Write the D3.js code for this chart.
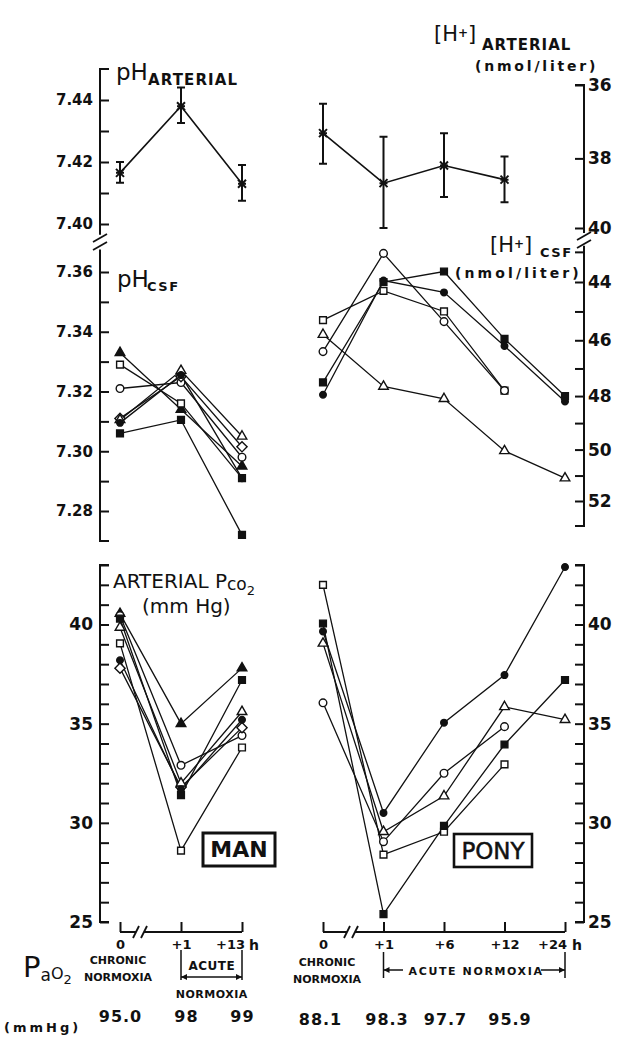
<!DOCTYPE html>
<html>
<head>
<meta charset="utf-8">
<script src="https://cdn.jsdelivr.net/npm/d3@7"></script>
<style>
  body { margin: 0; background: #fff; }
  svg text { font-family: "DejaVu Sans", sans-serif; fill: #111; }
</style>
</head>
<body>
<div class="chart"></div>
<script>
var svgWidth = 617;
var svgHeight = 1037;
var ink = "#111";
var font = "DejaVu Sans";

// time points (h)
var manTimes = ["0", "+1", "+13"];
var ponyTimes = ["0", "+1", "+6", "+12", "+24"];

// man: arterial pH, mean and bar ends
var manArtPH = [7.4165, 7.438, 7.413];
var manArtTop = [7.420, 7.444, 7.419];
var manArtBottom = [7.4133, 7.4326, 7.4075];

// pony: arterial [H+] (nmol/liter), mean and bar ends
var ponyArtH = [37.3, 38.7, 38.2, 38.6];
var ponyArtTop = [36.5, 37.4, 37.3, 37.95];
var ponyArtBottom = [38.15, 40.0, 39.1, 39.25];

// man: one row per subject
var manSymbols = ["triangleFilled", "square", "circle", "diamond", "triangle", "circleFilled", "squareFilled"];
var manCsfPH = [
  [7.333, 7.314, 7.295],
  [7.329, 7.316, 7.291],
  [7.321, 7.323, 7.298],
  [7.311, 7.325, 7.3015],
  [7.3105, 7.327, 7.305],
  [7.3095, 7.3255, 7.291],
  [7.306, 7.3105, 7.272]
];
var manPco2 = [
  [40.55, 35.0, 37.8],
  [39.05, 28.6, 33.8],
  [40.45, 32.9, 34.4],
  [37.8, 31.8, 34.8],
  [39.85, 32.0, 35.6],
  [38.2, 31.7, 35.2],
  [40.3, 31.4, 37.2]
];

// pony: one row per animal
var ponySymbols = ["square", "circle", "triangle", "squareFilled", "circleFilled"];
var ponyCsfH = [
  [45.3, 44.3, 45.0, 47.8],
  [46.4, 43.05, 45.35, 47.8],
  [45.8, 47.65, 48.1, 50.05, 51.1],
  [47.5, 44.0, 43.65, 45.95, 48.0],
  [47.95, 43.95, 44.35, 46.2, 48.2]
];
var ponyPco2 = [
  [42.0, 28.4, 29.55, 32.95],
  [36.05, 29.05, 32.5, 34.85],
  [39.05, 29.55, 31.35, 35.85, 35.2],
  [40.05, 25.4, 29.85, 33.95, 37.2],
  [39.65, 30.5, 35.05, 37.45, 42.9]
];

// Pao2 (mmHg) under the time points
var manPao2 = ["95.0", "98", "99"];
var ponyPao2 = ["88.1", "98.3", "97.7", "95.9"];

// tick values
var phArtTicks = [7.40, 7.41, 7.42, 7.43, 7.44];
var phArtLabels = [7.40, 7.42, 7.44];
var phCsfTicks = [7.28, 7.29, 7.30, 7.31, 7.32, 7.33, 7.34, 7.35, 7.36];
var phCsfLabels = [7.28, 7.30, 7.32, 7.34, 7.36];
var hArtTicks = [36, 38, 40];
var hCsfTicks = [43, 44, 45, 46, 47, 48, 49, 50, 51, 52];
var hCsfLabels = [44, 46, 48, 50, 52];
var pco2Ticks = [25, 26, 27, 28, 29, 30, 31, 32, 33, 34, 35, 36, 37, 38, 39, 40, 41, 42, 43];
var pco2Labels = [25, 30, 35, 40];

var svg = d3.select(".chart")
  .append("svg")
  .attr("width", svgWidth)
  .attr("height", svgHeight)
  .style("background", "#fff");

svg.append("defs").append("marker")
  .attr("id", "arr")
  .attr("viewBox", "0 0 10 10")
  .attr("refX", 10)
  .attr("refY", 5)
  .attr("markerWidth", 6)
  .attr("markerHeight", 6)
  .attr("markerUnits", "userSpaceOnUse")
  .attr("orient", "auto-start-reverse")
  .append("path")
  .attr("d", "M0,0L10,5L0,10z")
  .attr("fill", ink);

// scales
var xMan = d3.scalePoint().domain(manTimes).range([120, 242]);
var xPony = d3.scalePoint().domain(ponyTimes).range([323, 565]);
var yArtL = d3.scaleLinear().domain([7.40, 7.44]).range([224, 100]);
var yCsfL = d3.scaleLinear().domain([7.28, 7.36]).range([511, 272]);
var yArtR = d3.scaleLog().domain([36, 40]).range([85, 228]);
var yCsfR = d3.scaleLog().domain([44, 52]).range([282, 501]);
var yPco2 = d3.scaleLinear().domain([25, 43]).range([922, 565]);

var leftX = 100;
var rightX = 584;
var baseY = 932;

// ---------- helpers ----------
function yTicks(x, orient, scale, ticks, labels, fmt, size) {
  var axis = (orient === "left" ? d3.axisLeft(scale) : d3.axisRight(scale))
    .tickValues(ticks)
    .tickSize(-9)
    .tickPadding(orient === "left" ? 7 : 4)
    .tickFormat(function(d) { return labels.indexOf(d) >= 0 ? fmt(d) : ""; });
  var g = svg.append("g")
    .attr("transform", `translate(${x},0)`)
    .call(axis);
  g.select(".domain").remove();
  g.selectAll("line").attr("stroke", ink).attr("stroke-width", 2);
  g.selectAll("text")
    .style("font-family", font)
    .style("font-weight", "bold")
    .style("font-size", size + "px");
  return g;
}

function yLine(x, dir, y0, y1, cap0, cap1) {
  svg.append("path")
    .attr("d", `M${x + dir * cap0},${y0}H${x}V${y1}H${x + dir * cap1}`)
    .attr("fill", "none")
    .attr("stroke", ink)
    .attr("stroke-width", 2);
}

function slashes(x, y, vertical) {
  // two short slanted strokes marking an axis break
  [-4, 4].forEach(function(o) {
    var d = vertical
      ? `M${x - 7},${y + o + 4}L${x + 7},${y + o - 4}`
      : `M${x + o - 4},${y + 6}L${x + o + 2},${y - 6}`;
    svg.append("path").attr("d", d).attr("stroke", ink).attr("stroke-width", 1.8).attr("fill", "none");
  });
}

function marker(g, type, x, y) {
  var filled = type.indexOf("Filled") >= 0;
  var shape = type.replace("Filled", "");
  var sym = d3.symbolCircle, size = 46, rot = 0;
  if (shape === "square") { sym = d3.symbolSquare; size = 46; }
  if (shape === "triangle") { sym = d3.symbolTriangle; size = 40; }
  if (shape === "diamond") { sym = d3.symbolSquare; size = 52; rot = 45; }
  if (shape === "circle" && filled) size = 34;
  g.append("path")
    .attr("d", d3.symbol().type(sym).size(size)())
    .attr("transform", `translate(${x},${y}) rotate(${rot})`)
    .attr("fill", filled ? ink : "#fff")
    .attr("stroke", ink)
    .attr("stroke-width", 1.4);
}

function series(xScale, times, rows, yFn, symbols) {
  var g = svg.append("g");
  var line = d3.line()
    .x(function(d, i) { return xScale(times[i]); })
    .y(function(d) { return yFn(d); });
  rows.forEach(function(row) {
    g.append("path").attr("d", line(row)).attr("fill", "none").attr("stroke", ink).attr("stroke-width", 1.3);
  });
  rows.forEach(function(row, k) {
    row.forEach(function(v, i) { marker(g, symbols[k], xScale(times[i]), yFn(v)); });
  });
}

function meanBars(xScale, times, mean, top, bottom, yFn) {
  var g = svg.append("g");
  var line = d3.line()
    .x(function(d, i) { return xScale(times[i]); })
    .y(function(d) { return yFn(d); });
  g.append("path").attr("d", line(mean)).attr("fill", "none").attr("stroke", ink).attr("stroke-width", 1.6);
  mean.forEach(function(v, i) {
    var x = xScale(times[i]);
    var y0 = yFn(top[i]), y1 = yFn(bottom[i]), y = yFn(v);
    g.append("path")
      .attr("d", `M${x},${y0}V${y1}M${x - 4},${y0}H${x + 4}M${x - 4},${y1}H${x + 4}`)
      .attr("stroke", ink).attr("stroke-width", 2).attr("fill", "none");
    g.append("path")
      .attr("d", `M${x - 4},${y - 4}L${x + 4},${y + 4}M${x - 4},${y + 4}L${x + 4},${y - 4}M${x - 4},${y}H${x + 4}`)
      .attr("stroke", ink).attr("stroke-width", 2).attr("fill", "none");
  });
}

function xAxis(scale, times, breakAt, lastShift) {
  var g = svg.append("g")
    .attr("transform", `translate(0,${baseY})`)
    .call(d3.axisBottom(scale).tickSize(-10).tickPadding(8));
  g.select(".domain").remove();
  g.selectAll("line").attr("stroke", ink).attr("stroke-width", 2);
  g.selectAll("text")
    .style("font-family", font)
    .style("font-weight", "bold")
    .style("font-size", "13px");
  g.selectAll(".tick").filter(function(d) { return d === times[times.length - 1]; })
    .select("text").attr("dx", lastShift);
  var x0 = scale(times[0]), x1 = scale(times[times.length - 1]);
  svg.append("path")
    .attr("d", `M${x0},${baseY}H${breakAt - 5}M${breakAt + 3},${baseY}H${x1}`)
    .attr("stroke", ink).attr("stroke-width", 2).attr("fill", "none");
  slashes(breakAt, baseY, false);
  svg.append("text")
    .attr("x", x1 + 7).attr("y", baseY + 18)
    .style("font-size", "14px").style("font-weight", "bold")
    .text("h");
}

// text; ls > 0 spreads the letters with per-character dx
function label(x, y, txt, size, weight, anchor, ls) {
  var t = svg.append("text")
    .attr("x", x).attr("y", y)
    .attr("text-anchor", anchor || "start")
    .style("font-size", size + "px")
    .style("font-weight", weight || "normal");
  if (ls) {
    txt.split("").forEach(function(c, i) {
      t.append("tspan").attr("dx", i ? ls : 0).text(c);
    });
  } else {
    t.text(txt);
  }
  return t;
}

function hPlus(x, y) {
  var t = svg.append("text").attr("x", x).attr("y", y).style("font-size", "21px");
  t.append("tspan").text("[H");
  t.append("tspan").attr("dy", -4).style("font-size", "12px").style("font-weight", "bold").text("+");
  t.append("tspan").attr("dy", 4).text("]");
}

// ---------- left pH axis (broken) ----------
yLine(leftX, 1, yArtL(7.45), yArtL(7.3965), 9, 0);
yLine(leftX, 1, yCsfL(7.3675), yCsfL(7.27), 0, 9);
slashes(leftX, 242, true);
yTicks(leftX, "left", yArtL, phArtTicks, phArtLabels, d3.format(".2f"), 15);
yTicks(leftX, "left", yCsfL, phCsfTicks, phCsfLabels, d3.format(".2f"), 15);

// ---------- right [H+] axis (broken) ----------
yLine(rightX, -1, yArtR(36), yArtR(40.15), 9, 0);
yLine(rightX, -1, yCsfR(42.8), yCsfR(53), 0, 9);
slashes(rightX, 240, true);
yTicks(rightX, "right", yArtR, hArtTicks, hArtTicks, d3.format("d"), 17);
yTicks(rightX, "right", yCsfR, hCsfTicks, hCsfLabels, d3.format("d"), 17);

// ---------- Pco2 axes ----------
yLine(leftX, 1, yPco2(43), yPco2(25), 9, 9);
yLine(rightX, -1, yPco2(43), yPco2(25), 9, 9);
yTicks(leftX, "left", yPco2, pco2Ticks, pco2Labels, d3.format("d"), 17);
yTicks(rightX, "right", yPco2, pco2Ticks, pco2Labels, d3.format("d"), 17);

// ---------- time axes ----------
xAxis(xMan, manTimes, 141, -12);
xAxis(xPony, ponyTimes, 352, -13);

// ---------- data ----------
meanBars(xMan, manTimes, manArtPH, manArtTop, manArtBottom, yArtL);
meanBars(xPony, ponyTimes, ponyArtH, ponyArtTop, ponyArtBottom, yArtR);
series(xMan, manTimes, manCsfPH, yCsfL, manSymbols);
series(xPony, ponyTimes, ponyCsfH, yCsfR, ponySymbols);
series(xMan, manTimes, manPco2, yPco2, manSymbols);
series(xPony, ponyTimes, ponyPco2, yPco2, ponySymbols);

// ---------- titles ----------
label(116, 80, "pH", 23);
label(148, 85, "ARTERIAL", 15, "bold", "start", 1.1);
label(117, 287, "pH", 23);
label(147, 291, "CSF", 13, "bold", "start", 1.5);

hPlus(434, 41);
label(482, 50, "ARTERIAL", 15, "bold", "start", 1);
label(475, 71, "(nmol/liter)", 14, "bold", "start", 2.8);

hPlus(490, 252);
label(540, 257, "CSF", 13, "bold", "start", 1.5);
label(455, 278, "(nmol/liter)", 14, "bold", "start", 3.1);

var pc = svg.append("text").attr("x", 113).attr("y", 588).style("font-size", "20px");
pc.append("tspan").text("ARTERIAL P");
pc.append("tspan").attr("dy", 2).style("font-size", "17px").text("co");
pc.append("tspan").attr("dy", 5).style("font-size", "13px").text("2");
label(142, 613, "(mm Hg)", 20);

// MAN / PONY boxes
svg.append("rect").attr("x", 203).attr("y", 833).attr("width", 72).attr("height", 33)
  .attr("fill", "#fff").attr("stroke", ink).attr("stroke-width", 3);
label(239, 857, "MAN", 22, "bold", "middle");
svg.append("rect").attr("x", 454).attr("y", 834).attr("width", 78).attr("height", 33)
  .attr("fill", "#fff").attr("stroke", ink).attr("stroke-width", 2.6);
label(493, 859, "PONY", 23, "normal", "middle").style("stroke", ink).style("stroke-width", 0.5);

// ---------- condition labels ----------
label(118, 964, "CHRONIC", 11, "bold", "middle");
label(118, 981, "NORMOXIA", 11, "bold", "middle");
label(327, 966, "CHRONIC", 11, "bold", "middle");
label(327, 983, "NORMOXIA", 11, "bold", "middle");

// man acute bracket
var m1 = xMan("+1"), m2 = xMan("+13");
svg.append("path").attr("d", `M${m1},950V980M${m2},950V980`).attr("stroke", ink).attr("stroke-width", 1.5);
svg.append("line").attr("x1", m1).attr("x2", m2).attr("y1", 977).attr("y2", 977)
  .attr("stroke", ink).attr("stroke-width", 1.5)
  .attr("marker-start", "url(#arr)").attr("marker-end", "url(#arr)");
label((m1 + m2) / 2, 970, "ACUTE", 12, "bold", "middle", 0.5);
label((m1 + m2) / 2, 998, "NORMOXIA", 11, "bold", "middle", 0.5);

// pony acute bracket
var p1 = xPony("+1"), p2 = xPony("+24");
svg.append("path").attr("d", `M${p1},952V978M${p2},952V978`).attr("stroke", ink).attr("stroke-width", 1.5);
svg.append("line").attr("x1", p1).attr("x2", p2).attr("y1", 970).attr("y2", 970)
  .attr("stroke", ink).attr("stroke-width", 1.5)
  .attr("marker-start", "url(#arr)").attr("marker-end", "url(#arr)");
svg.append("rect").attr("x", 403).attr("y", 962).attr("width", 138).attr("height", 16).attr("fill", "#fff");
label((p1 + p2) / 2 + 1, 975, "ACUTE NORMOXIA", 11, "bold", "middle", 1.6);

// ---------- Pao2 row ----------
var pa = svg.append("text").attr("x", 23).attr("y", 977).style("font-size", "29px");
pa.append("tspan").text("P");
pa.append("tspan").attr("dy", 4).style("font-size", "17px").text("a");
pa.append("tspan").attr("dy", -2).style("font-size", "16px").text("O");
pa.append("tspan").attr("dy", 5).style("font-size", "13px").text("2");
label(4, 1032, "(mmHg)", 13, "bold", "start", 3);

manPao2.forEach(function(v, i) {
  label(xMan(manTimes[i]) + (i === 1 ? 5 : 0), 1022, v, 16, "bold", "middle", 1);
});
ponyPao2.forEach(function(v, i) {
  label(xPony(ponyTimes[i]) + [-3, 3, 1, 5][i], 1025, v, 16, "bold", "middle", 1);
});
</script>
</body>
</html>
